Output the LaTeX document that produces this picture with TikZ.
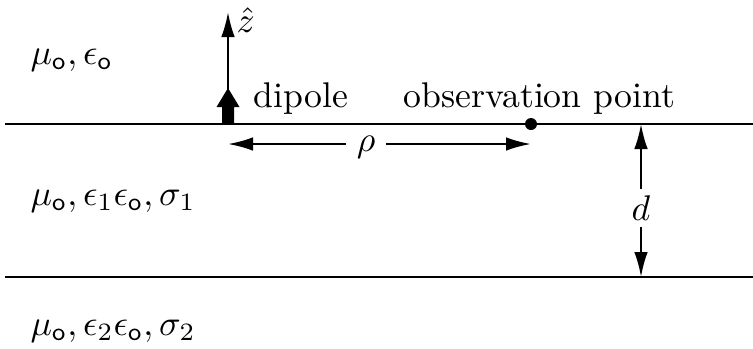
\documentclass[tikz,border=0pt]{standalone}
\usetikzlibrary{arrows.meta}
\tikzset{
  layer/.style={line width=0.75pt},
  dim/.style={line width=0.6pt,-{Latex[length=7pt,width=3.8pt]}},
  lbl/.style={inner sep=0pt,font=\fontsize{10}{12}\selectfont},
}
\newcommand{\so}{\mathsf{o}}
\begin{document}
\begin{tikzpicture}[x=0.28pt,y=-0.28pt]
\useasboundingbox (0,0) rectangle (753,348);
% interfaces
\coordinate (t1) at (5,124);
\coordinate (t2) at (753,124);
\coordinate (b1) at (5,277);
\coordinate (b2) at (753,277);
\draw[layer] (t1) -- (t2);
\draw[layer] (b1) -- (b2);
% media labels
\node[lbl,anchor=base west] (m0) at (30,64) {$\mu_\so,\epsilon_\so$};
\node[lbl,anchor=base west] (m1) at (30,205) {$\mu_\so,\epsilon_1\epsilon_\so,\sigma_1$};
\node[lbl,anchor=base west] (m2) at (30,335) {$\mu_\so,\epsilon_2\epsilon_\so,\sigma_2$};
% dipole
\coordinate (dp) at (228,124);
\coordinate (ztop) at (228,12);
\fill (222,124) -- (222,107) -- (216.5,107) -- (228,88) -- (239.5,107) -- (234,107) -- (234,124) -- cycle;
\draw[dim] (228,92) -- (ztop);
\node[lbl,anchor=west] (zh) at (236,20) {$\hat z$};
\node[lbl,anchor=base west] (dl) at (253,107) {dipole};
% observation point
\coordinate (op) at (531,124);
\fill (op) circle (6);
\node[lbl,anchor=base west] (ol) at (403,107) {observation point};
% rho
\node[lbl] (rho) at (366,147) {$\rho$};
\coordinate (rl) at (228,144);
\coordinate (rr) at (531,144);
\draw[dim] (rho.west |- rl) ++(-10,0) -- (rl);
\draw[dim] (rho.east |- rr) ++(10,0) -- (rr);
% d
\node[lbl] (d) at (641,208) {$d$};
\coordinate (du) at (641,124);
\coordinate (dd) at (641,277);
\draw[dim] (d.north) ++(0,-6) -- (du);
\draw[dim] (d.south) ++(0,6) -- (dd);
\end{tikzpicture}
\end{document}
